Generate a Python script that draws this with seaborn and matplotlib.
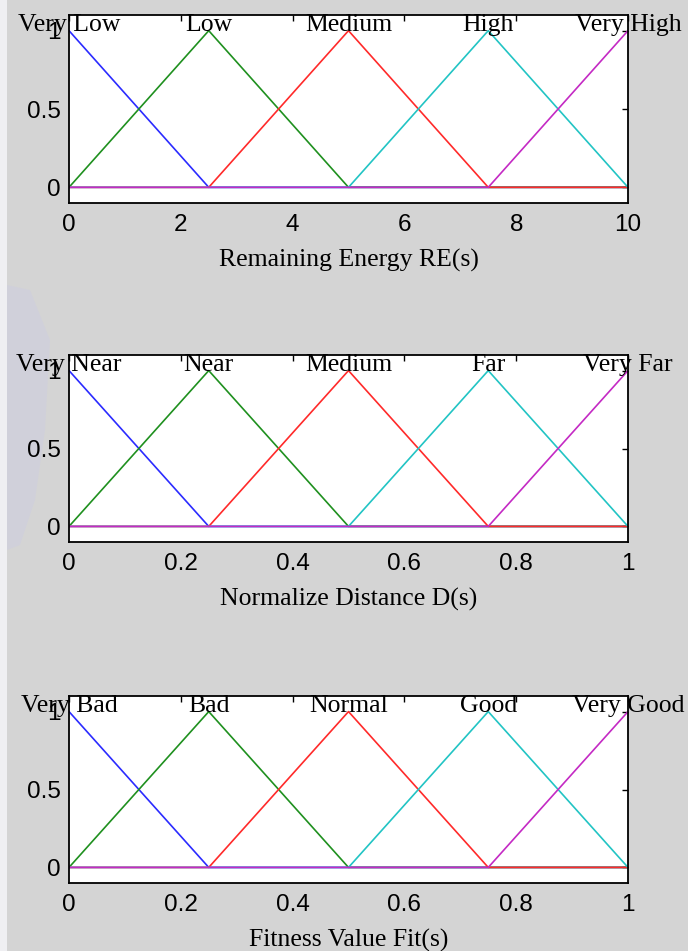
import numpy as np
import pandas as pd
import matplotlib
matplotlib.use("Agg")
import matplotlib.pyplot as plt
from matplotlib.patches import Rectangle, Polygon
import seaborn as sns

# ---------------- data ----------------
energy_breaks = [0, 2.5, 5, 7.5, 10]
distance_breaks = [0, 0.25, 0.5, 0.75, 1]
fitness_breaks = [0, 0.25, 0.5, 0.75, 1]

# membership degree of each fuzzy set at the five breakpoints
mf_very_1 = [1, 0, 0, 0, 0]
mf_2 = [0, 1, 0, 0, 0]
mf_3 = [0, 0, 1, 0, 0]
mf_4 = [0, 0, 0, 1, 0]
mf_very_5 = [0, 0, 0, 0, 1]

energy_labels = ["Very Low", "Low", "Medium", "High", "Very High"]
distance_labels = ["Very Near", "Near", "Medium", "Far", "Very Far"]
fitness_labels = ["Very Bad", "Bad", "Normal", "Good", "Very Good"]

energy_xticks = [0, 2, 4, 6, 8, 10]
energy_xticklabels = ["0", "2", "4", "6", "8", "10"]
unit_xticks = [0, 0.2, 0.4, 0.6, 0.8, 1]
unit_xticklabels = ["0", "0.2", "0.4", "0.6", "0.8", "1"]
yticks = [0, 0.5, 1]
yticklabels = ["0", "0.5", "1"]

xlabels = ["Remaining Energy RE(s)", "Normalize Distance D(s)", "Fitness Value Fit(s)"]

mf_colors = ["#2b2bff", "#1f901f", "#ff2a2a", "#22c4c4", "#c42ac4"]

# ---------------- style ----------------
sns.set_style("white")
plt.rcParams["font.family"] = ["Liberation Sans", "DejaVu Sans"]

fig = plt.figure(figsize=(6.88, 9.51), dpi=100)
bg = "#d4d4d4"
fig.patch.set_facecolor(bg)

# light strip at left edge and faint watermark (behind the axes)
fig.patches.append(Rectangle((0, 0), 7 / 688, 1, transform=fig.transFigure,
                             facecolor="#efeff2", edgecolor="none", zorder=-5))
fig.patches.append(Polygon([(7 / 688, 1 - 285 / 951), (30 / 688, 1 - 290 / 951),
                            (50 / 688, 1 - 340 / 951), (45 / 688, 1 - 430 / 951),
                            (35 / 688, 1 - 500 / 951), (20 / 688, 1 - 545 / 951),
                            (7 / 688, 1 - 550 / 951)],
                           closed=True, transform=fig.transFigure,
                           facecolor="#c8c8ea", edgecolor="none", alpha=0.3, zorder=-4))

axes_pos = [
    [69 / 688, 1 - 203 / 951, 559 / 688, 188 / 951],
    [69 / 688, 1 - 542 / 951, 559 / 688, 187 / 951],
    [69 / 688, 1 - 883 / 951, 559 / 688, 187 / 951],
]

breaks_all = [energy_breaks, distance_breaks, fitness_breaks]
labels_all = [energy_labels, distance_labels, fitness_labels]
xticks_all = [energy_xticks, unit_xticks, unit_xticks]
xticklabels_all = [energy_xticklabels, unit_xticklabels, unit_xticklabels]
mfs = [mf_very_1, mf_2, mf_3, mf_4, mf_very_5]

serif = ["Liberation Serif", "DejaVu Serif"]

for i in range(3):
    ax = fig.add_axes(axes_pos[i])
    ax.set_facecolor("white")
    xb = breaks_all[i]
    for mf, col in zip(mfs, mf_colors):
        df = pd.DataFrame({"x": xb, "y": mf})
        sns.lineplot(data=df, x="x", y="y", color=col, linewidth=1.2,
                     ax=ax, legend=False, estimator=None, sort=False)
    ax.set_xlim(xb[0], xb[-1])
    ax.set_ylim(-0.1, 1.1)
    ax.set_xticks(xticks_all[i])
    ax.set_xticklabels(xticklabels_all[i])
    ax.set_yticks(yticks)
    ax.set_yticklabels(yticklabels)
    ax.tick_params(direction="in", length=4, width=1.0, top=True, right=True,
                   labelsize=17.5, colors="black")
    ax.tick_params(axis="x", pad=8)
    ax.tick_params(axis="y", pad=6)
    for s in ax.spines.values():
        s.set_visible(True)
        s.set_color("black")
        s.set_linewidth(1.3)
    for xp, lab in zip(xb, labels_all[i]):
        ax.text(xp, 1.0, lab, ha="center", va="baseline", fontsize=18.5,
                family=serif, color="black", clip_on=False, zorder=5)
    ax.set_xlabel(xlabels[i], fontsize=18.5, family=serif, color="black", labelpad=9)
    ax.set_ylabel("")

fig.savefig("out.png", dpi=100, facecolor=fig.get_facecolor())
